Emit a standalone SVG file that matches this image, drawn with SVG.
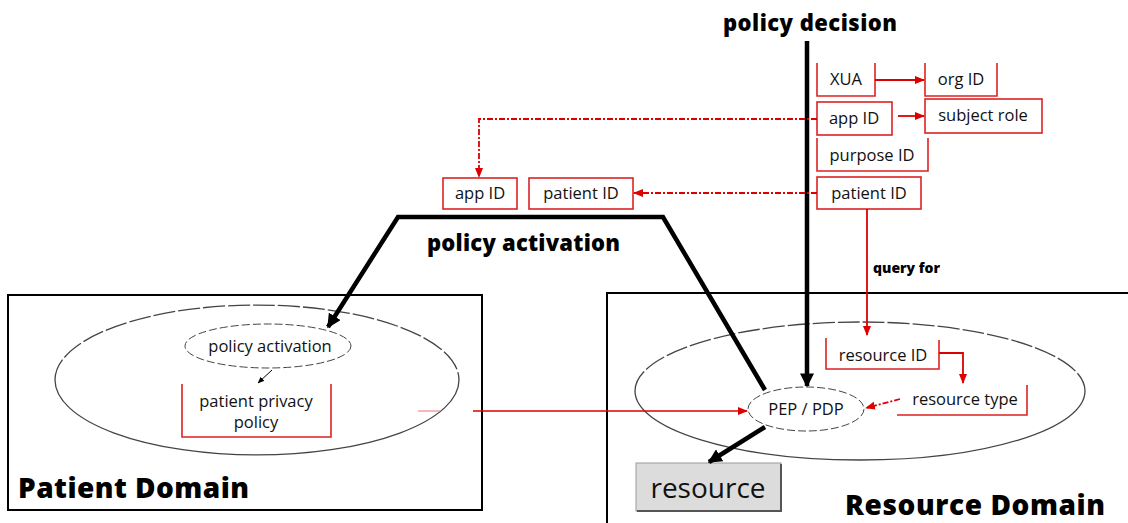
<svg xmlns="http://www.w3.org/2000/svg" width="1128" height="523" viewBox="0 0 1128 523">
<style>
.t{font-family:"Open Sans","Noto Sans","Liberation Sans",sans-serif;font-size:16.5px;fill:#111}
.b{font-family:"Open Sans","Liberation Sans",sans-serif;font-weight:800;fill:#000}
.rb{fill:#fff;stroke:#d22;stroke-width:1.6}
.ro{fill:none;stroke:#d22;stroke-width:1.6}
.dom{fill:none;stroke:#000;stroke-width:2}
.ell{fill:none;stroke:#444;stroke-width:1.3}
.thick{fill:none;stroke:#000;stroke-width:4.5}
.red{fill:none;stroke:#d00;stroke-width:1.8}
.redd{fill:none;stroke:#d00;stroke-width:1.8;stroke-dasharray:6 2 2 2}
</style>
<defs>
<marker id="ar" viewBox="0 0 10 10" refX="9" refY="5" markerWidth="10" markerHeight="10" markerUnits="userSpaceOnUse" orient="auto"><path d="M0,1 L10,5 L0,9 z" fill="#d00"/></marker>
<marker id="ab" viewBox="0 0 10 10" refX="9" refY="5" markerWidth="14" markerHeight="14" markerUnits="userSpaceOnUse" orient="auto"><path d="M0,0 L10,5 L0,10 z" fill="#000"/></marker>
<marker id="as" viewBox="0 0 10 10" refX="9" refY="5" markerWidth="7" markerHeight="7" markerUnits="userSpaceOnUse" orient="auto"><path d="M0,1 L10,5 L0,9 z" fill="#000"/></marker>
</defs>
<rect width="1128" height="523" fill="#fff"/>

<g id="patient-domain">
<rect class="dom" x="8" y="295" width="474" height="215"/>
<path class="ell" d="M55,380 A202,75 0 0 1 459,380" stroke-dasharray="22 3" stroke-width="1"/>
<path class="ell" d="M459,380 A202,75 0 0 1 55,380" stroke-width="1.8"/>
<text class="b" x="18" y="498" font-size="28" textLength="231">Patient Domain</text>
</g>

<g id="resource-domain">
<rect class="dom" x="607" y="293" width="540" height="250"/>
<path class="ell" d="M635,391 A225,69 0 0 1 1085,391" stroke-dasharray="22 3" stroke-width="1"/>
<path class="ell" d="M1085,391 A225,69 0 0 1 635,391" stroke-width="1.8"/>
<text class="b" x="845" y="515" font-size="28" textLength="260">Resource Domain</text>
</g>

<g id="policy-activation-node">
<ellipse cx="268" cy="346" rx="83" ry="22" fill="#fff" stroke="#444" stroke-width="1" stroke-dasharray="8 3"/>
<text class="t" x="270" y="352" text-anchor="middle" font-size="16">policy activation</text>
</g>

<g id="patient-privacy-policy">
<path class="ro" d="M182,384 V437 H331 V384" stroke-width="1.2"/>
<text class="t" x="256" y="407" text-anchor="middle">patient privacy</text>
<text class="t" x="256" y="428" text-anchor="middle">policy</text>
</g>

<g id="pep-pdp">
<ellipse cx="806" cy="409" rx="58" ry="22" fill="#fff" stroke="#444" stroke-width="1" stroke-dasharray="8 3"/>
<text class="t" x="806" y="415" text-anchor="middle" font-size="16">PEP / PDP</text>
</g>

<g id="resource-id">
<path class="ro" d="M826,338 V369 H939 V340" stroke-width="1.2"/>
<text class="t" x="883" y="361" text-anchor="middle" font-size="16">resource ID</text>
</g>

<g id="resource-type">
<path class="ro" d="M897,415 H1027 V385" stroke-width="1.2"/>
<text class="t" x="965" y="405" text-anchor="middle" font-size="16">resource type</text>
</g>

<g id="resource">
<rect x="636" y="463" width="145" height="48" fill="#dcdcdc" stroke="#999" stroke-width="1"/>
<path d="M637,511 H781 V464" fill="none" stroke="#555" stroke-width="2"/>
<text x="708" y="498" text-anchor="middle" font-family="Open Sans, Noto Sans, sans-serif" font-size="28" fill="#111">resource</text>
</g>

<g id="policy-decision-label">
<text class="b" x="723" y="31" font-size="22" textLength="174">policy decision</text>
</g>

<g id="policy-activation-label">
<text class="b" x="427" y="251" font-size="22" textLength="193">policy activation</text>
</g>

<g id="query-for-label">
<text class="b" x="873" y="273" font-size="14">query for</text>
</g>

<g id="xua"><path class="ro" d="M817,63 V96 H875 V63"/><text class="t" x="846" y="85" text-anchor="middle">XUA</text></g>
<g id="org-id"><path class="ro" d="M925,63 V96 H997 V63"/><text class="t" x="961" y="85" text-anchor="middle">org ID</text></g>
<g id="app-id-right"><rect class="rb" x="817" y="102" width="75" height="33"/><text class="t" x="854" y="124" text-anchor="middle">app ID</text></g>
<g id="subject-role"><rect class="rb" x="925" y="99" width="117" height="34"/><text class="t" x="983" y="121" text-anchor="middle">subject role</text></g>
<g id="purpose-id"><path class="ro" d="M817,138 V171 H928 V138"/><text class="t" x="872" y="161" text-anchor="middle">purpose ID</text></g>
<g id="patient-id-right"><rect class="rb" x="817" y="177" width="104" height="32"/><text class="t" x="869" y="199" text-anchor="middle">patient ID</text></g>
<g id="app-id-left"><rect class="rb" x="443" y="178" width="74" height="31"/><text class="t" x="480" y="199" text-anchor="middle">app ID</text></g>
<g id="patient-id-left"><rect class="rb" x="529" y="178" width="104" height="31"/><text class="t" x="581" y="199" text-anchor="middle">patient ID</text></g>

<g id="connectors">
<line class="thick" x1="807" y1="41" x2="807" y2="386" marker-end="url(#ab)"/>
<polyline class="thick" points="765,390 663,217 398,217 328,327" marker-end="url(#ab)" stroke-linejoin="miter"/>
<line class="thick" x1="765" y1="427" x2="709" y2="462" marker-end="url(#ab)" stroke-width="4"/>
<line x1="272" y1="370" x2="258" y2="383" stroke="#000" stroke-width="1" marker-end="url(#as)"/>
<line class="red" x1="875" y1="80" x2="924" y2="80" marker-end="url(#ar)"/>
<line class="red" x1="898" y1="116" x2="924" y2="116" marker-end="url(#ar)"/>
<polyline class="redd" points="817,119 479,119 479,177" marker-end="url(#ar)"/>
<line class="redd" x1="817" y1="193" x2="634" y2="193" marker-end="url(#ar)"/>
<line class="red" x1="867" y1="209" x2="867" y2="335" marker-end="url(#ar)"/>
<polyline class="red" points="939,353 963,353 963,383" marker-end="url(#ar)"/>
<line class="redd" x1="900" y1="399" x2="866" y2="408" marker-end="url(#ar)" stroke-width="1.3"/>
<line x1="418" y1="411" x2="440" y2="411" stroke="#e88" stroke-width="1.2"/>
<line x1="473" y1="411" x2="747" y2="411" stroke="#d00" stroke-width="1.6" marker-end="url(#ar)"/>
</g>
</svg>
